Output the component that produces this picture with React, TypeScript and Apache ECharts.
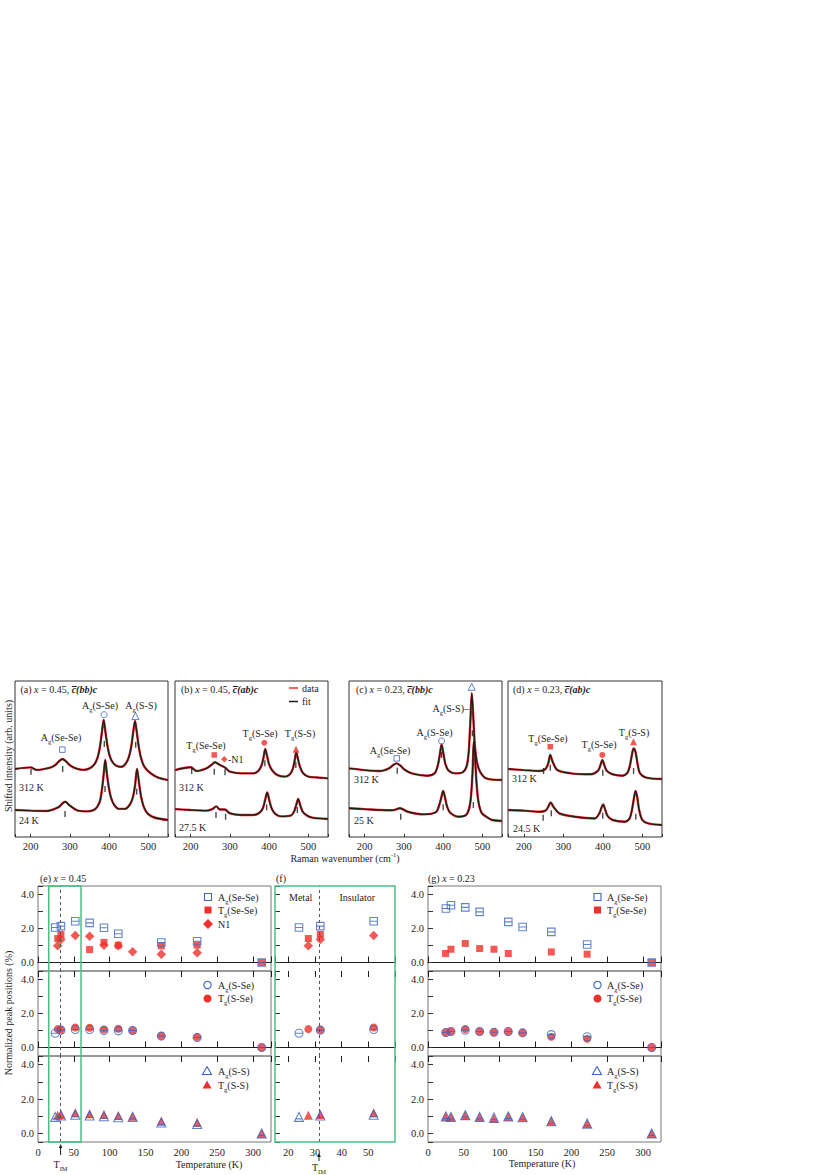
import React, { useEffect, useRef } from "react";
import * as echarts from "echarts";

const FONT = '"Liberation Serif","Times New Roman",serif';
const BLUE = "#3c64c0";
const RED = "#ef2f2b";
const GREEN = "#48c182";
const INK = "#1e1e1e";

// ---------- top spectra: [Raman shift (cm-1), shifted intensity (arb.)] ----------
const specA312 = [[160,43.6],[200,44.6],[215,43.0],[250,44.5],[262,46.0],[272,48.5],[281,50.0],[290,48.5],[300,46.0],[315,44.0],[335,43.0],[350,44.0],[362,46.5],[370,50.5],[376,57.0],[381,66.0],[386,75.0],[391,66.5],[396,58.0],[402,51.5],[410,47.5],[420,45.5],[432,45.0],[442,47.0],[450,51.0],[456,57.5],[461,66.5],[466,74.4],[471,66.0],[476,57.0],[482,50.0],[490,45.0],[505,41.0],[525,38.0],[550,36.5]];
const specA24 = [[160,17.3],[200,16.9],[240,16.7],[270,19.0],[288,22.6],[300,20.1],[320,16.9],[345,16.4],[360,17.2],[370,19.5],[377,23.5],[382,31.0],[386,40.0],[390,49.4],[394,41.0],[399,32.0],[405,25.0],[413,20.5],[425,18.0],[440,18.0],[452,20.5],[460,25.0],[466,33.0],[471,43.6],[476,35.0],[481,26.5],[488,19.5],[498,15.0],[515,12.5],[550,10.9]];
const specB312 = [[160,42.9],[200,44.7],[215,42.3],[240,44.0],[252,46.0],[262,47.9],[272,46.5],[287,44.6],[300,41.9],[330,40.8],[360,40.8],[372,42.3],[380,45.5],[385,50.0],[390,56.4],[395,51.5],[400,46.5],[407,43.0],[420,39.8],[440,38.7],[452,40.0],[460,43.5],[465,49.0],[469,54.3],[473,50.5],[478,45.5],[486,41.0],[500,38.7],[525,38.1],[550,37.6]];
const specB27 = [[160,17.9],[200,17.3],[240,16.9],[255,17.9],[265,19.6],[275,17.6],[287,17.6],[300,15.2],[330,14.1],[360,14.1],[375,15.5],[384,18.5],[390,24.0],[395,28.6],[400,24.0],[406,18.5],[415,15.0],[430,13.2],[455,13.7],[463,16.0],[469,20.5],[474,24.4],[479,20.5],[485,16.5],[495,14.0],[510,12.4],[550,11.5]];
const specC312 = [[160,44.0],[200,42.9],[240,42.3],[262,44.0],[272,46.0],[281,47.2],[290,46.0],[300,43.5],[320,40.8],[360,39.3],[378,40.8],[386,45.5],[391,52.0],[396,59.4],[401,53.0],[406,46.5],[414,42.5],[430,40.8],[450,41.5],[460,45.5],[465,54.0],[469,72.0],[473,92.1],[477,76.0],[481,58.0],[487,47.0],[495,41.5],[510,37.6],[550,36.5]];
const specC25 = [[160,18.4],[200,17.9],[240,17.3],[270,17.1],[290,18.4],[310,16.2],[350,14.5],[382,16.0],[390,20.5],[395,25.0],[400,29.5],[405,25.0],[410,19.5],[418,15.5],[440,13.0],[458,14.0],[466,18.0],[471,26.0],[475,42.0],[478,61.1],[481,52.0],[485,35.0],[490,22.5],[498,15.5],[510,13.0],[525,10.9],[550,10.3]];
const specD312 = [[160,43.6],[200,42.9],[240,42.3],[255,43.6],[262,47.2],[267,52.6],[273,48.3],[285,42.9],[320,40.8],[370,40.2],[388,42.5],[394,46.0],[399,49.4],[404,46.0],[410,42.5],[425,40.2],[450,39.3],[462,41.0],[468,45.0],[473,51.5],[478,56.8],[483,54.5],[488,47.0],[494,41.0],[510,38.1],[550,37.2]];
const specD24 = [[160,17.3],[200,16.9],[240,16.2],[255,16.9],[262,19.4],[268,22.2],[275,19.4],[290,15.2],[330,13.0],[380,11.9],[392,15.5],[397,19.0],[401,20.9],[405,18.5],[412,13.5],[425,10.9],[455,9.8],[468,12.0],[474,17.5],[479,25.0],[483,29.5],[487,26.0],[492,17.5],[500,11.0],[515,8.7],[550,7.7]];

// fitted peak positions (short bars)
const ticksA = [[200.8,41.9],[281.5,43.6],[387.6,59.6],[467.7,59.2],[287.5,14.7],[389.4,30.8],[470.2,29.1]];
const ticksB = [[202.5,42.3],[260,41.9],[287.5,41.5],[389,47.2],[468,46.2],[264.5,14.1],[289,13.0],[393.7,19.0],[471.8,17.3]];
const ticksC = [[283,42.5],[396,52.6],[474.4,66.5],[291.8,13.0],[400,19.0],[477,20.5]];
const ticksD = [[250,42.3],[267,44.4],[400,41.2],[478,42.3],[249,12.4],[269.6,15.2],[400,13.7],[483.7,13.0]];

// peak-assignment markers
const mkA = { sq: [[280.6, 56.0]], ci: [[387, 78.4]], tr: [[467, 77.6]] };
const mkB = { sq: [[260, 52.6]], di: [[285.5, 49.8]], ci: [[387.6, 60.4]], tr: [[468.4, 56.2]] };
const mkC = { sq: [[281.6, 50.4]], ci: [[396, 61.5]], tr: [[472.8, 96.3]] };
const mkD = { sq: [[267, 57.9]], ci: [[398.8, 52.6]], tr: [[477.9, 61.1]] };

// ---------- bottom: normalized peak positions (%) vs temperature (K) ----------
const T_IM = 31.5;
// x = 0.45
const eTempAgSeSe = [24, 32, 52, 72, 92, 112, 172, 222, 312];
const eAgSeSe = [2.06, 2.14, 2.43, 2.33, 2.04, 1.69, 1.18, 1.25, 0];
const eTempTgSeSe = [27.5, 32, 72, 92, 112, 172, 222, 312];
const eTgSeSe = [1.41, 1.65, 0.76, 1.18, 1.02, 0.98, 1.02, 0];
const eTempN1 = [27.5, 32, 52, 72, 92, 112, 132, 172, 222];
const eN1 = [0.98, 1.35, 1.59, 1.55, 1.02, 0.98, 0.63, 0.49, 0.57];
const eTempAg = [24, 32, 52, 72, 92, 112, 132, 172, 222, 312];
const eTempTg = [27.5, 32, 52, 72, 92, 112, 132, 172, 222, 312];
const eAgSSe = [0.84, 1.02, 1.06, 1.06, 1.0, 0.98, 1.0, 0.67, 0.59, 0];
const eTgSSe = [1.08, 1.04, 1.18, 1.16, 1.06, 1.1, 1.0, 0.69, 0.61, 0];
const eAgSS = [0.96, 1.04, 1.08, 1.04, 1.0, 0.94, 0.96, 0.63, 0.55, 0];
const eTgSS = [1.06, 1.1, 1.2, 1.14, 1.1, 1.04, 1.0, 0.71, 0.63, 0];
// x = 0.23
const gTempAgSeSe = [25, 32, 52, 72, 112, 132, 172, 222, 312];
const gAgSeSe = [3.18, 3.37, 3.24, 2.98, 2.39, 2.09, 1.8, 1.06, 0];
const gTempTgSeSe = [24.5, 32, 52, 72, 92, 112, 172, 222, 312];
const gTgSeSe = [0.53, 0.78, 1.12, 0.82, 0.78, 0.53, 0.62, 0.49, 0];
const gTempAg = [25, 32, 52, 72, 92, 112, 132, 172, 222, 312];
const gTempTg = [24.5, 32, 52, 72, 92, 112, 132, 172, 222, 312];
const gAgSSe = [0.88, 0.94, 1.02, 0.94, 0.9, 0.94, 0.86, 0.76, 0.63, 0];
const gTgSSe = [0.88, 0.94, 1.08, 0.94, 0.9, 0.94, 0.86, 0.63, 0.51, 0];
const gAgSS = [0.98, 0.96, 1.06, 0.96, 0.92, 0.98, 0.94, 0.71, 0.57, 0];
const gTgSS = [0.98, 0.96, 1.06, 0.96, 0.86, 0.98, 0.94, 0.71, 0.57, 0];

const SQ_OPEN = "path://M0,0L10,0L10,10L0,10Z M0,5L10,5";
const CI_OPEN = "path://M10,5A5,5 0 1 1 0,5A5,5 0 1 1 10,5Z M0,5L10,5";
const TR_OPEN = "path://M5,0L10,9L0,9Z M2,6.5L8,6.5";

const rich: any = {
  n: { fontSize: 10, fontFamily: FONT, fill: INK, lineHeight: 15 },
  i: { fontSize: 10, fontFamily: FONT, fill: INK, fontStyle: "italic", lineHeight: 15 },
  b: { fontSize: 10, fontFamily: FONT, fill: INK, fontStyle: "italic", fontWeight: "bold", lineHeight: 15 },
  s: { fontSize: 6.5, fontFamily: FONT, fill: INK, lineHeight: 15, verticalAlign: "bottom" },
  u: { fontSize: 6.5, fontFamily: FONT, fill: INK, lineHeight: 15, verticalAlign: "top" },
};

function txt(x: number, y: number, text: string, align = "left", extra: any = {}) {
  return {
    type: "text", x, y, z: 100, silent: true,
    style: { x: 0, y: 0, text, textAlign: align, textVerticalAlign: "middle", verticalAlign: "middle",
      rich, fontSize: 10, fontFamily: FONT, fill: INK, ...extra },
  };
}
const sub = (a: string, g: string, b: string) => `{n|${a}}{s|${g}}{n|${b}}`;

function buildOption() {
  const grids: any[] = [];
  const xAxes: any[] = [];
  const yAxes: any[] = [];
  const series: any[] = [];
  const graphic: any[] = [];
  const axisFont = { fontFamily: FONT, fontSize: 10.5, color: INK };

  // ---- top spectra panels
  const topPanels = [
    { left: 15, width: 153, curves: [specA312, specA24], ticks: ticksA, mk: mkA, open: true },
    { left: 175, width: 153, curves: [specB312, specB27], ticks: ticksB, mk: mkB, open: false },
    { left: 349, width: 153, curves: [specC312, specC25], ticks: ticksC, mk: mkC, open: true },
    { left: 508, width: 154, curves: [specD312, specD24], ticks: ticksD, mk: mkD, open: false },
  ];
  topPanels.forEach((p, i) => {
    grids.push({ left: p.left, top: 681, width: p.width, height: 156, show: true, borderColor: "#333", borderWidth: 1 });
    const xi = xAxes.length;
    xAxes.push({ gridIndex: i, type: "value", min: 160, max: 550, splitNumber: 4,
      axisLine: { show: false }, splitLine: { show: false },
      axisTick: { show: true, inside: true, length: 3, lineStyle: { color: "#333" } },
      axisLabel: { ...axisFont, margin: 4, formatter: (v: number) => (v % 100 === 0 ? String(v) : "") } });
    const yi = yAxes.length;
    yAxes.push({ gridIndex: i, type: "value", min: 0, max: 100, show: false });
    p.curves.forEach((c) => {
      series.push({ type: "line", xAxisIndex: xi, yAxisIndex: yi, data: c, showSymbol: false, symbol: "none",
        smooth: 0.3, silent: true, z: 2, lineStyle: { color: RED, width: 2.4 } });
    });
    p.curves.forEach((c) => {
      series.push({ type: "line", xAxisIndex: xi, yAxisIndex: yi, data: c, showSymbol: false, symbol: "none",
        smooth: 0.3, silent: true, z: 3, lineStyle: { color: INK, width: 1.4 } });
    });
    series.push({ type: "scatter", xAxisIndex: xi, yAxisIndex: yi, data: p.ticks, symbol: "rect",
      symbolSize: [1.4, 6], silent: true, z: 4, itemStyle: { color: INK } });
    const mk: any = p.mk;
    const sty = p.open
      ? { color: "rgba(255,255,255,0)", borderColor: BLUE, borderWidth: 1 }
      : { color: RED };
    const add = (data: any, symbol: string, size: number) =>
      series.push({ type: "scatter", xAxisIndex: xi, yAxisIndex: yi, data, symbol, symbolSize: size,
        silent: true, z: 5, itemStyle: sty });
    if (mk.sq) add(mk.sq, "rect", 5.5);
    if (mk.di) add(mk.di, "diamond", 6.5);
    if (mk.ci) add(mk.ci, "circle", 6);
    if (mk.tr) add(mk.tr, "triangle", 7);
  });

  // ---- bottom panels
  const rowTops = [886, 971, 1056];
  const rowHs = [85, 85, 86];
  const zip = (t: number[], v: number[], maxT = 1e9) =>
    t.map((tt, k) => [tt, v[k]]).filter((d) => d[0] <= maxT);
  const redSq = { symbol: "rect", size: 7, itemStyle: { color: RED } };
  const redDi = { symbol: "diamond", size: 9.5, itemStyle: { color: RED } };
  const redCi = { symbol: "circle", size: 8, itemStyle: { color: RED } };
  const redTr = { symbol: "triangle", size: 9, itemStyle: { color: RED } };
  const openSty = { color: "rgba(255,255,255,0)", borderColor: BLUE, borderWidth: 1.1 };
  const bSq = { symbol: SQ_OPEN, size: 7.5, itemStyle: openSty };
  const bCi = { symbol: CI_OPEN, size: 8, itemStyle: openSty };
  const bTr = { symbol: TR_OPEN, size: 9, itemStyle: openSty };

  const eRows = [
    [{ d: [eTempTgSeSe, eTgSeSe], s: redSq }, { d: [eTempN1, eN1], s: redDi }, { d: [eTempAgSeSe, eAgSeSe], s: bSq }],
    [{ d: [eTempTg, eTgSSe], s: redCi }, { d: [eTempAg, eAgSSe], s: bCi }],
    [{ d: [eTempTg, eTgSS], s: redTr }, { d: [eTempAg, eAgSS], s: bTr }],
  ];
  const gRows = [
    [{ d: [gTempTgSeSe, gTgSeSe], s: redSq }, { d: [gTempAgSeSe, gAgSeSe], s: bSq }],
    [{ d: [gTempTg, gTgSSe], s: redCi }, { d: [gTempAg, gAgSSe], s: bCi }],
    [{ d: [gTempTg, gTgSS], s: redTr }, { d: [gTempAg, gAgSS], s: bTr }],
  ];
  const bottomPanels = [
    { key: "e", left: 38, width: 233, min: 0, max: 325, rows: eRows, tim: true, maxT: 1e9 },
    { key: "f", left: 275, width: 120, min: 15, max: 60, rows: eRows, tim: true, maxT: 60 },
    { key: "g", left: 428, width: 233, min: 0, max: 325, rows: gRows, tim: false, maxT: 1e9 },
  ];
  bottomPanels.forEach((p) => {
    const isF = p.key === "f";
    const xScale = isF ? { min: p.min, max: p.max, splitNumber: 5 } : { min: p.min, max: p.max, interval: 50 };
    const xFmt = isF
      ? (v: number) => (v % 10 === 0 && v < 60 ? String(v) : "")
      : (v: number) => (v % 50 === 0 && v <= 300 ? String(v) : "");
    for (let r = 0; r < 3; r++) {
      const gi = grids.length;
      grids.push({ left: p.left, top: rowTops[r], width: p.width, height: rowHs[r], show: !isF,
        borderColor: "#777", borderWidth: 1 });
      const xi = xAxes.length;
      xAxes.push({ gridIndex: gi, type: "value", position: "bottom", ...xScale,
        axisLine: { show: r < 2, lineStyle: { color: INK, width: 1 } },
        axisTick: { show: r < 2, inside: true, length: 6, lineStyle: { color: INK } },
        splitLine: { show: false },
        axisLabel: { show: r === 2, ...axisFont, margin: 5, formatter: xFmt } });
      if (r > 0) {
        xAxes.push({ gridIndex: gi, type: "value", position: "top", ...xScale,
          axisLine: { show: false }, axisTick: { show: true, inside: true, length: 6, lineStyle: { color: INK } },
          splitLine: { show: false }, axisLabel: { show: false } });
      }
      const yi = yAxes.length;
      yAxes.push({ gridIndex: gi, type: "value", min: -0.5, max: 4.5, splitNumber: 5,
        axisLine: { show: false }, splitLine: { show: false },
        axisTick: { show: true, inside: true, length: 5, lineStyle: { color: "#333" } },
        axisLabel: { show: !isF, ...axisFont, margin: 4,
          formatter: (v: number) => {
            const rv = Math.round(v);
            return Math.abs(v - rv) < 1e-6 && rv % 2 === 0 ? rv.toFixed(1) : "";
          } } });
      p.rows[r].forEach((sr: any, k: number) => {
        const s: any = { type: "scatter", xAxisIndex: xi, yAxisIndex: yi, data: zip(sr.d[0], sr.d[1], p.maxT),
          symbol: sr.s.symbol, symbolSize: sr.s.size, itemStyle: sr.s.itemStyle, silent: true, z: 3 + k };
        if (k === 0 && p.tim) {
          s.markLine = { silent: true, symbol: "none", label: { show: false }, animation: false,
            lineStyle: { type: [3, 3], color: "#555", width: 1 }, data: [{ xAxis: T_IM }] };
        }
        series.push(s);
      });
    }
  });

  // ---- green frames
  const eL = 38, eW = 233;
  const px15 = eL + (15 / 325) * eW, px60 = eL + (60 / 325) * eW;
  graphic.push({ type: "rect", z: 60, silent: true, shape: { x: px15, y: 886, width: px60 - px15, height: 256 },
    style: { fill: "none", stroke: GREEN, lineWidth: 1.5 } });
  graphic.push({ type: "rect", z: 60, silent: true, shape: { x: 275, y: 886, width: 120, height: 256 },
    style: { fill: "none", stroke: GREEN, lineWidth: 1.5 } });

  // ---- top texts
  graphic.push(txt(20.5, 689, "{n|(a) }{i|x}{n| = 0.45, }{b|c\u0305(bb)c}"));
  graphic.push(txt(181, 689, "{n|(b) }{i|x}{n| = 0.45, }{b|c\u0305(ab)c}"));
  graphic.push(txt(356, 689, "{n|(c) }{i|x}{n| = 0.23, }{b|c\u0305(bb)c}"));
  graphic.push(txt(513, 689, "{n|(d) }{i|x}{n| = 0.23, }{b|c\u0305(ab)c}"));
  graphic.push(txt(100, 705, sub("A", "g", "(S-Se)"), "center"));
  graphic.push(txt(141, 705, sub("A", "g", "(S-S)"), "center"));
  graphic.push(txt(61, 737, sub("A", "g", "(Se-Se)"), "center"));
  graphic.push(txt(206, 745, sub("T", "g", "(Se-Se)"), "center"));
  graphic.push(txt(260, 733, sub("T", "g", "(S-Se)"), "center"));
  graphic.push(txt(300, 733, sub("T", "g", "(S-S)"), "center"));
  graphic.push(txt(228, 759, "-N1"));
  graphic.push(txt(469, 708, sub("A", "g", "(S-S)\u2013"), "right"));
  graphic.push(txt(434.5, 732, sub("A", "g", "(S-Se)"), "center"));
  graphic.push(txt(390, 750, sub("A", "g", "(Se-Se)"), "center"));
  graphic.push(txt(548, 738, sub("T", "g", "(Se-Se)"), "center"));
  graphic.push(txt(599, 744, sub("T", "g", "(S-Se)"), "center"));
  graphic.push(txt(634, 732, sub("T", "g", "(S-S)"), "center"));
  graphic.push(txt(19, 787, "312 K"));
  graphic.push(txt(19, 820, "24 K"));
  graphic.push(txt(179, 787, "312 K"));
  graphic.push(txt(179, 827, "27.5 K"));
  graphic.push(txt(354, 779, "312 K"));
  graphic.push(txt(354, 820, "25 K"));
  graphic.push(txt(512, 778, "312 K"));
  graphic.push(txt(513, 828, "24.5 K"));
  // legend in (b)
  graphic.push({ type: "line", z: 100, silent: true, shape: { x1: 289, y1: 688, x2: 298, y2: 688 }, style: { stroke: RED, lineWidth: 1.5 } });
  graphic.push({ type: "line", z: 100, silent: true, shape: { x1: 289, y1: 701.5, x2: 298, y2: 701.5 }, style: { stroke: INK, lineWidth: 1.5 } });
  graphic.push(txt(302, 688, "data"));
  graphic.push(txt(302, 701.5, "fit"));
  // axis titles
  graphic.push({ ...txt(8, 756, "Shifted intensity (arb. units)", "center"), rotation: Math.PI / 2 });
  graphic.push(txt(345, 858.5, "{n|Raman wavenumber (cm}{u|-1}{n|)}", "center"));

  // ---- bottom texts
  graphic.push(txt(40, 878, "{n|(e) }{i|x}{n| = 0.45}"));
  graphic.push(txt(276, 878, "(f)"));
  graphic.push(txt(428, 878, "{n|(g) }{i|x}{n| = 0.23}"));
  graphic.push(txt(300.7, 897, "Metal", "center"));
  graphic.push(txt(357.3, 897, "Insulator", "center"));
  graphic.push({ ...txt(8, 1013, "Normalized peak positions (%)", "center"), rotation: Math.PI / 2 });
  graphic.push(txt(209, 1164, "Temperature (K)", "center"));
  graphic.push(txt(542, 1163, "Temperature (K)", "center"));
  // T_IM arrows
  const tE = eL + (T_IM / 325) * eW;
  const tF = 275 + ((T_IM - 15) / 45) * 120;
  const arrow = (x: number, y1: number, y2: number) => {
    graphic.push({ type: "line", z: 100, silent: true, shape: { x1: x, y1, x2: x, y2: y2 + 3 }, style: { stroke: INK, lineWidth: 1 } });
    graphic.push({ type: "polygon", z: 100, silent: true, shape: { points: [[x, y2], [x - 1.8, y2 + 4], [x + 1.8, y2 + 4]] }, style: { fill: INK } });
  };
  arrow(tE, 1155, 1144);
  arrow(tF, 1161, 1153);
  graphic.push(txt(tE, 1164, "{n|T}{s|IM}", "center"));
  graphic.push(txt(tF, 1167.5, "{n|T}{s|IM}", "center"));

  // bottom legends
  const legSym = (kind: string, cx: number, cy: number) => {
    const open = { fill: "none", stroke: BLUE, lineWidth: 1.1 };
    const fill = { fill: RED };
    if (kind === "bsq") graphic.push({ type: "rect", z: 100, silent: true, shape: { x: cx - 3.5, y: cy - 3.5, width: 7, height: 7 }, style: open });
    if (kind === "rsq") graphic.push({ type: "rect", z: 100, silent: true, shape: { x: cx - 3.5, y: cy - 3.5, width: 7, height: 7 }, style: fill });
    if (kind === "rdi") graphic.push({ type: "polygon", z: 100, silent: true, shape: { points: [[cx, cy - 5], [cx + 5, cy], [cx, cy + 5], [cx - 5, cy]] }, style: fill });
    if (kind === "bci") graphic.push({ type: "circle", z: 100, silent: true, shape: { cx, cy, r: 3.7 }, style: open });
    if (kind === "rci") graphic.push({ type: "circle", z: 100, silent: true, shape: { cx, cy, r: 4 }, style: fill });
    if (kind === "btr") graphic.push({ type: "polygon", z: 100, silent: true, shape: { points: [[cx, cy - 4.5], [cx + 4.5, cy + 3.5], [cx - 4.5, cy + 3.5]] }, style: open });
    if (kind === "rtr") graphic.push({ type: "polygon", z: 100, silent: true, shape: { points: [[cx, cy - 4.5], [cx + 4.5, cy + 3.5], [cx - 4.5, cy + 3.5]] }, style: fill });
  };
  const legend = (sx: number, tx: number, items: [string, number, string][]) => {
    items.forEach(([k, y, t]) => { legSym(k, sx, y); graphic.push(txt(tx, y, t)); });
  };
  legend(208, 218, [["bsq", 897, sub("A", "g", "(Se-Se)")], ["rsq", 910, sub("T", "g", "(Se-Se)")], ["rdi", 924, "N1"]]);
  legend(207.5, 218, [["bci", 985, sub("A", "g", "(S-Se)")], ["rci", 998.5, sub("T", "g", "(S-Se)")]]);
  legend(207, 218, [["btr", 1071, sub("A", "g", "(S-S)")], ["rtr", 1085, sub("T", "g", "(S-S)")]]);
  legend(597.5, 607, [["bsq", 897, sub("A", "g", "(Se-Se)")], ["rsq", 910, sub("T", "g", "(Se-Se)")]]);
  legend(597.5, 607, [["bci", 985, sub("A", "g", "(S-Se)")], ["rci", 998.5, sub("T", "g", "(S-Se)")]]);
  legend(597, 607, [["btr", 1071, sub("A", "g", "(S-S)")], ["rtr", 1085, sub("T", "g", "(S-S)")]]);

  return {
    animation: false,
    backgroundColor: "#fff",
    textStyle: { fontFamily: FONT },
    grid: grids,
    xAxis: xAxes,
    yAxis: yAxes,
    series,
    graphic,
  };
}

export default function App() {
  const ref = useRef<HTMLDivElement>(null);
  useEffect(() => {
    const chart = echarts.init(ref.current!, null, { renderer: "svg" });
    chart.setOption(buildOption() as any);
    return () => chart.dispose();
  }, []);
  return (
    <div
      ref={ref}
      style={{ position: "fixed", left: 0, top: 0, width: 830, height: 1175, background: "#fff" }}
    />
  );
}
